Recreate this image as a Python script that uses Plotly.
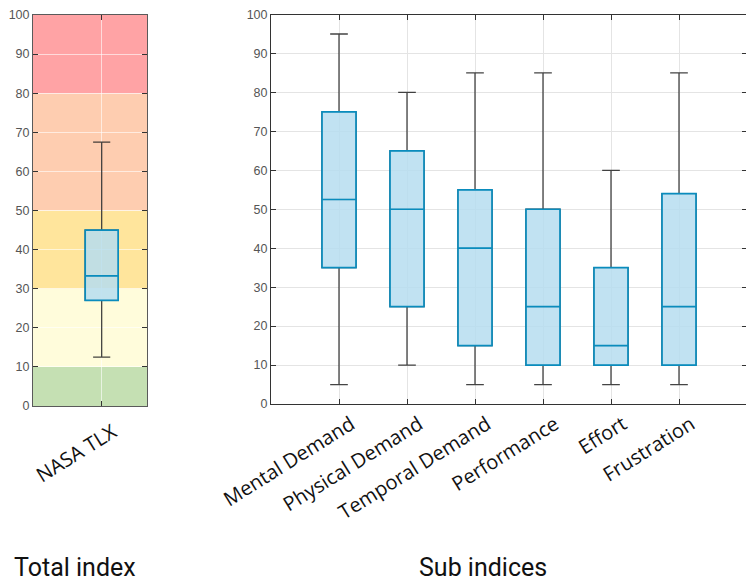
import plotly.graph_objects as go

# ---------------- data ----------------
total_labels = ["NASA TLX"]
total_low = [12.5]
total_q1 = [27]
total_med = [33.3]
total_q3 = [45]
total_high = [67.5]

sub_labels = ["Mental Demand", "Physical Demand", "Temporal Demand",
              "Performance", "Effort", "Frustration"]
sub_low = [5, 10, 5, 5, 5, 5]
sub_q1 = [35, 25, 15, 10, 10, 10]
sub_med = [52.5, 50, 40, 25, 15, 25]
sub_q3 = [75, 65, 55, 50, 35, 54]
sub_high = [95, 80, 85, 85, 60, 85]

band_edges = [0, 10, 30, 50, 80, 100]
band_colors = ["#c5e0b3", "#fffcdb", "#ffe59c", "#fecdb0", "#ffa3a5"]
y_ticks = list(range(0, 101, 10))

panel_titles = ["Total index", "Sub indices"]

# ---------------- style ----------------
BLUE = "#0a8cbd"
FILL = "rgba(182,221,240,0.85)"
WHISK = "rgba(35,35,35,0.85)"
W, H = 754, 582
OFF = 8  # page body margin that the browser adds around the figure


def px(x):
    return (x - OFF) / W


def py(y):
    return 1 - (y - OFF) / H


total_pos = list(range(1, len(total_labels) + 1))
sub_pos = list(range(1, len(sub_labels) + 1))

fig = go.Figure()


def add_boxes(pos, lo, q1, med, q3, hi, width, xa, ya):
    # whiskers + caps (dark)
    fig.add_trace(go.Box(
        x=pos, q1=q1, median=med, q3=q3, lowerfence=lo, upperfence=hi,
        width=width, whiskerwidth=0.52, boxpoints=False,
        fillcolor="rgba(0,0,0,0)", line=dict(color=WHISK, width=1.3),
        xaxis=xa, yaxis=ya, hoverinfo="skip", showlegend=False))
    # blue box on top
    fig.add_trace(go.Box(
        x=pos, q1=q1, median=med, q3=q3, lowerfence=q1, upperfence=q3,
        width=width, whiskerwidth=0, boxpoints=False,
        fillcolor=FILL, line=dict(color=BLUE, width=1.7),
        xaxis=xa, yaxis=ya, hoverinfo="skip", showlegend=False))


add_boxes(total_pos, total_low, total_q1, total_med, total_q3, total_high,
          0.24, "x", "y")
add_boxes(sub_pos, sub_low, sub_q1, sub_med, sub_q3, sub_high,
          0.5, "x2", "y2")

# coloured bands behind the total index
shapes = []
for i, c in enumerate(band_colors):
    shapes.append(dict(type="rect", xref="x domain", yref="y",
                       x0=0, x1=1, y0=band_edges[i], y1=band_edges[i + 1],
                       fillcolor=c, line=dict(width=0), layer="below"))

tickfont_y = dict(family="Liberation Sans, Arial", size=12.5, color="#555555")
tickfont_x = dict(family="Open Sans", size=20, color="#111111")

common_y = dict(range=[0, 100], tickvals=y_ticks, ticks="inside", ticklen=5,
                showline=True, mirror="allticks", zeroline=False,
                tickfont=tickfont_y, fixedrange=True, automargin=False,
                ticklabeloverflow="allow")
common_x = dict(ticks="inside", ticklen=5, showline=True, mirror="allticks",
                zeroline=False, tickangle=-32, tickfont=tickfont_x,
                fixedrange=True, automargin=False, ticklabeloverflow="allow")

title_font = dict(family="Roboto", size=25, color="#111111")

fig.update_layout(
    width=W, height=H,
    margin=dict(l=0, r=0, t=0, b=0, pad=0, autoexpand=False),
    paper_bgcolor="white", plot_bgcolor="white",
    boxmode="overlay",
    showlegend=False,
    shapes=shapes,
    xaxis=dict(domain=[px(33), px(147)], range=[0.5, 1.33],
               tickvals=total_pos, ticktext=total_labels,
               linecolor="#5a5a5a", tickcolor="#333333",
               showgrid=True, gridcolor="rgba(255,255,255,0.6)",
               ticklabelshift=11, ticklabelstandoff=6,
               anchor="y", **common_x),
    yaxis=dict(domain=[py(406), py(15)], anchor="x",
               linecolor="#5a5a5a", tickcolor="#333333",
               showgrid=True, gridcolor="rgba(255,255,255,0.6)",
               **common_y),
    xaxis2=dict(domain=[px(271), px(747)], range=[0, 7],
                tickvals=sub_pos, ticktext=sub_labels,
                linecolor="#333333", tickcolor="#333333",
                showgrid=True, gridcolor="#e4e4e4",
                ticklabelshift=12,
                anchor="y2", **common_x),
    yaxis2=dict(domain=[py(404), py(14.5)], anchor="x2",
                linecolor="#333333", tickcolor="#333333",
                showgrid=True, gridcolor="#e4e4e4",
                **common_y),
    annotations=[
        dict(text=panel_titles[0], x=px(75), y=py(567),
             xref="paper", yref="paper", xanchor="center", yanchor="middle",
             showarrow=False, font=title_font),
        dict(text=panel_titles[1], x=px(483), y=py(567),
             xref="paper", yref="paper", xanchor="center", yanchor="middle",
             showarrow=False, font=title_font),
    ],
)

fig.write_html("out.html")
